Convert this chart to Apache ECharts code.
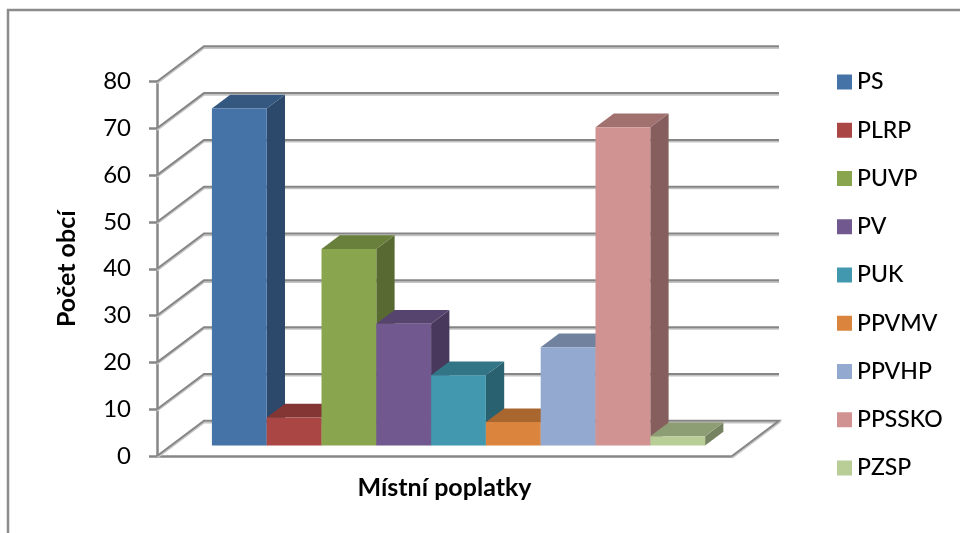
<!DOCTYPE html>
<html><head><meta charset="utf-8">
<style>html,body{margin:0;padding:0;background:#fff}#c{width:960px;height:533px}</style>
<script src="https://cdn.jsdelivr.net/npm/echarts@6/dist/echarts.min.js"></script>
</head><body><div id="c"></div>
<script>
const categories = ['Místní poplatky'];
const seriesNames = ['PS','PLRP','PUVP','PV','PUK','PPVMV','PPVHP','PPSSKO','PZSP'];
const seriesValues = [72,6,42,26,15,5,21,68,2];
const seriesColors = ['#4572A7','#AA4643','#89A54E','#71588F','#4198AF','#DB843D','#93A9CF','#D19392','#B9CD96'];
const yTicks = [0,10,20,30,40,50,60,70,80];

const FONT = 'Lato';
const WALL_DX = 47, WALL_DY = -35.2, FLOOR_W = 575;
const BAR_W = 54.8, BAR_DX = 18.3, BAR_DY = -13.7, BAR_BASE = -10.5, BAR_SHIFT = 14;
const LINE = '#868686', LINE2 = '#c4c4c4';

function shade(hex, f){
  const n = parseInt(hex.slice(1),16);
  return 'rgb(' + [(n>>16)&255,(n>>8)&255,n&255].map(v=>Math.round(v*f)).join(',') + ')';
}

function wallItem(params, api){
  const v = api.value(0);
  const p = api.coord([0, v]);
  const x0 = p[0] - FLOOR_W/2, y = p[1];
  let pts = [[x0,y],[x0+WALL_DX,y+WALL_DY],[x0+WALL_DX+FLOOR_W,y+WALL_DY]];
  if (v === 0) pts = pts.concat([[x0+FLOOR_W,y]]);
  const shadow = pts.map(q=>[q[0],q[1]+1.6]);
  return {type:'group',children:[
    {type:'polyline',shape:{points:shadow},style:{stroke:LINE2,lineWidth:2,fill:null}},
    {type:'polyline',shape:{points:pts},style:{stroke:LINE,lineWidth:2,fill:null}}
  ]};
}

function barItem(i, color){
  return function(params, api){
    const c = api.coord([0, 0]);
    const t = api.coord([0, api.value(1)]);
    const x = c[0] + BAR_SHIFT + (i - seriesNames.length/2)*BAR_W;
    const yb = c[1] + BAR_BASE, yt = t[1] + BAR_BASE;
    const poly = (points, fill) => ({type:'polygon',shape:{points},style:{fill}});
    return {type:'group',children:[
      poly([[x+BAR_W,yb],[x+BAR_W+BAR_DX,yb+BAR_DY],[x+BAR_W+BAR_DX,yt+BAR_DY],[x+BAR_W,yt]], shade(color,0.64)),
      poly([[x,yt],[x+BAR_DX,yt+BAR_DY],[x+BAR_W+BAR_DX,yt+BAR_DY],[x+BAR_W,yt]], shade(color,0.77)),
      {type:'rect',shape:{x,y:yt,width:BAR_W,height:yb-yt},style:{fill:color}}
    ]};
  };
}

const series = [{
  type:'custom', name:'walls', silent:true, z:1,
  data: yTicks.map(v=>[v]), encode:{y:0}, renderItem:wallItem
}].concat(seriesNames.map((n,i)=>({
  type:'custom', name:n, z:2, itemStyle:{color:seriesColors[i]},
  data:[[0, seriesValues[i]]], encode:{x:0,y:1}, renderItem:barItem(i, seriesColors[i])
})));

const chart = echarts.init(document.getElementById('c'), null, {renderer:'canvas'});
chart.setOption({
  animation:false,
  backgroundColor:'#fff',
  textStyle:{fontFamily:FONT},
  graphic:[{type:'polyline',silent:true,z:0,shape:{points:[[8,540],[8,10],[965,10]]},style:{stroke:'#8c8c8c',lineWidth:2.5,fill:null}}],
  grid:{left:157,width:FLOOR_W,top:81.5,height:374.5},
  legend:{
    orient:'vertical', left:837, top:70.5, padding:0, icon:'rect', itemWidth:15, itemHeight:15, itemGap:25.25,
    data:seriesNames, selectedMode:false,
    textStyle:{fontFamily:FONT,fontSize:23,fontWeight:500,color:'#000',height:22,lineHeight:22}
  },
  xAxis:{type:'category',data:categories,
    axisLine:{show:true,lineStyle:{color:LINE,width:2.5}},
    axisTick:{show:false},splitLine:{show:false},
    axisLabel:{color:'#000',fontFamily:FONT,fontSize:25,fontWeight:'bold',margin:19}
  },
  yAxis:{type:'value',min:0,max:80,interval:10,
    name:'Počet obcí',nameLocation:'middle',nameGap:78,nameRotate:90,
    nameTextStyle:{color:'#000',fontFamily:FONT,fontSize:25,fontWeight:'bold'},
    axisLine:{show:true,lineStyle:{color:LINE,width:2.5}},
    axisTick:{show:true,length:8,lineStyle:{color:LINE,width:2.5}},
    splitLine:{show:false},
    axisLabel:{color:'#000',fontFamily:FONT,fontSize:24,margin:26,padding:[5,0,0,0]}
  },
  series
});
</script></body></html>
